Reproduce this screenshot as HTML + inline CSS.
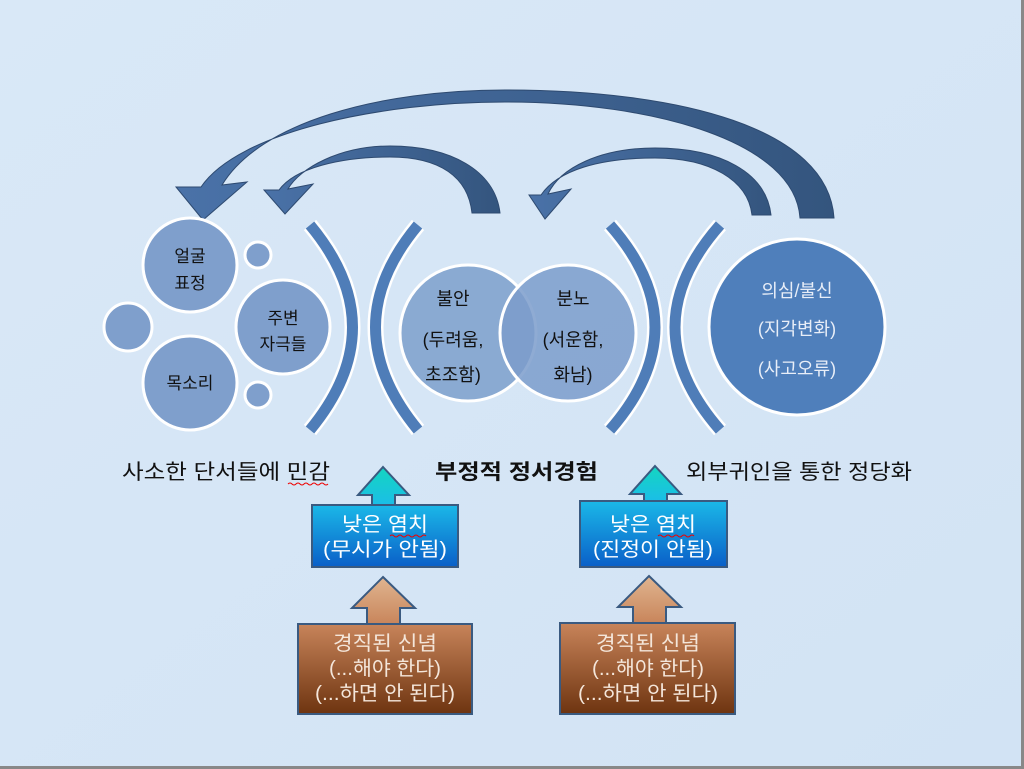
<!DOCTYPE html>
<html><head><meta charset="utf-8"><style>
html,body{margin:0;padding:0;}
body{width:1024px;height:769px;overflow:hidden;background:#d5e5f5;font-family:"Liberation Sans","Noto Sans CJK KR","NanumGothic",sans-serif;}
svg{display:block}
text{font-family:"Liberation Sans","Noto Sans CJK KR","NanumGothic",sans-serif;}
</style></head><body>
<svg width="1024" height="769" viewBox="0 0 1024 769" xmlns="http://www.w3.org/2000/svg">
<defs>
<linearGradient id="bg" x1="0" y1="0" x2="1" y2="1"><stop offset="0" stop-color="#d9e8f7"/><stop offset="1" stop-color="#d2e3f4"/></linearGradient>
<linearGradient id="blue" x1="0" y1="0" x2="0" y2="1"><stop offset="0" stop-color="#1bb8e8"/><stop offset="1" stop-color="#0a5fc8"/></linearGradient>
<linearGradient id="cyan" x1="0" y1="0" x2="0" y2="1"><stop offset="0" stop-color="#14d6c0"/><stop offset="1" stop-color="#1bbde8"/></linearGradient>
<linearGradient id="brown" x1="0" y1="0" x2="0" y2="1"><stop offset="0" stop-color="#c8845a"/><stop offset="1" stop-color="#6e3410"/></linearGradient>
<linearGradient id="tan" x1="0" y1="0" x2="0" y2="1"><stop offset="0" stop-color="#e0b590"/><stop offset="1" stop-color="#c8845a"/></linearGradient>
<linearGradient id="arr" x1="0" y1="0" x2="1" y2="0"><stop offset="0" stop-color="#4a72a8"/><stop offset="1" stop-color="#34557e"/></linearGradient>
</defs>
<rect width="1024" height="769" fill="url(#bg)"/>
<rect x="1021" y="0" width="3" height="769" fill="#888"/>
<rect x="0" y="766" width="1024" height="3" fill="#888"/>

<path d="M834,218 C828,128 680,90 505,90 C380,90 260,122 222,185 L247,182 L203,220 L176,187 L201,187 C238,132 380,102 505,102 C655,102 795,142 800,218 Z" fill="url(#arr)" stroke="#2e4a70" stroke-width="1"/>
<path d="M500,213 C495,170 450,146 390,146 C340,146 300,168 288,189 L313,184 L285,214 L264,190 L279,190 C295,168 340,157 390,157 C440,157 468,177 472,213 Z" fill="url(#arr)" stroke="#2e4a70" stroke-width="1"/>
<path d="M771,215 C766,172 720,148 655,148 C600,148 560,168 548,194 L571,189 L545,219 L529,195 L541,195 C558,170 600,158 655,158 C710,158 748,180 752,215 Z" fill="url(#arr)" stroke="#2e4a70" stroke-width="1"/>

<g fill="#7f9fcc" stroke="#fff" stroke-width="3">
<circle cx="190" cy="265" r="47"/>
<circle cx="258" cy="255" r="13"/>
<circle cx="283" cy="327" r="47"/>
<circle cx="128" cy="327" r="24"/>
<circle cx="190" cy="383" r="47"/>
<circle cx="258" cy="395" r="13"/>
</g>
<g font-size="17" fill="#111" text-anchor="middle">
<text x="190" y="262">얼굴</text><text x="190" y="289">표정</text>
<text x="283" y="324">주변</text><text x="283" y="350">자극들</text>
<text x="190" y="389">목소리</text>
</g>

<g fill="none" stroke-linecap="butt">
<g stroke="#fff" stroke-width="16">
<path d="M310,225 Q395,327 310,430"/><path d="M418,225 Q333,327 418,430"/>
<path d="M610,225 Q700,327 610,430"/><path d="M720,225 Q630,327 720,430"/>
</g>
<g stroke="#4f7db8" stroke-width="11">
<path d="M310,225 Q395,327 310,430"/><path d="M418,225 Q333,327 418,430"/>
<path d="M610,225 Q700,327 610,430"/><path d="M720,225 Q630,327 720,430"/>
</g>
</g>

<circle cx="468" cy="333" r="68" fill="#86a6d0" fill-opacity="0.95" stroke="#fff" stroke-width="3"/>
<circle cx="568" cy="333" r="68" fill="#7b9ccb" fill-opacity="0.85" stroke="#fff" stroke-width="3"/>
<g font-size="18" fill="#111" text-anchor="middle">
<text x="453" y="305">불안</text><text x="453" y="346">(두려움,</text><text x="453" y="381">초조함)</text>
<text x="573" y="305">분노</text><text x="573" y="346">(서운함,</text><text x="573" y="381">화남)</text>
</g>

<circle cx="797" cy="327" r="88" fill="#4f7fbb" stroke="#fff" stroke-width="3"/>
<g font-size="18" fill="#e8eef8" text-anchor="middle">
<text x="797" y="297">의심/불신</text><text x="797" y="335">(지각변화)</text><text x="797" y="375">(사고오류)</text>
</g>

<text x="122" y="479" font-size="21" fill="#111" textLength="208" lengthAdjust="spacingAndGlyphs">사소한 단서들에 민감</text>
<path d="M288,484 q2,-2 4,0 t4,0 t4,0 t4,0 t4,0 t4,0 t4,0 t4,0 t4,0 t4,0" fill="none" stroke="#e00" stroke-width="1"/>
<text x="435" y="479" font-size="21" font-weight="bold" fill="#111" textLength="163" lengthAdjust="spacingAndGlyphs">부정적 정서경험</text>
<text x="686" y="479" font-size="21" fill="#111" textLength="226" lengthAdjust="spacingAndGlyphs">외부귀인을 통한 정당화</text>

<g stroke="#3a5a80" stroke-width="2">
<path d="M383,467 L409,495 L395,495 L395,506 L372,506 L372,495 L358,495 Z" fill="url(#cyan)"/>
<rect x="312" y="505" width="146" height="62" fill="url(#blue)"/>
<path d="M655,466 L681,494 L667,494 L667,502 L644,502 L644,494 L630,494 Z" fill="url(#cyan)"/>
<rect x="580" y="501" width="147" height="66" fill="url(#blue)"/>
</g>
<g font-size="20" fill="#fff" text-anchor="middle">
<text x="385" y="531" textLength="86" lengthAdjust="spacingAndGlyphs">낮은 염치</text><text x="385" y="556" textLength="124" lengthAdjust="spacingAndGlyphs">(무시가 안됨)</text>
<text x="653" y="531" textLength="86" lengthAdjust="spacingAndGlyphs">낮은 염치</text><text x="653" y="556" textLength="120" lengthAdjust="spacingAndGlyphs">(진정이 안됨)</text>
</g>
<path d="M390,536 q2,-2 4,0 t4,0 t4,0 t4,0 t4,0 t4,0 t4,0 t4,0 t4,0" fill="none" stroke="#e00" stroke-width="1"/>
<path d="M658,536 q2,-2 4,0 t4,0 t4,0 t4,0 t4,0 t4,0 t4,0 t4,0 t4,0" fill="none" stroke="#e00" stroke-width="1"/>

<g stroke="#3a5a80" stroke-width="2">
<path d="M383,577 L415,608 L400,608 L400,625 L367,625 L367,608 L352,608 Z" fill="url(#tan)"/>
<rect x="298" y="624" width="174" height="90" fill="url(#brown)"/>
<path d="M649,576 L681,607 L666,607 L666,624 L633,624 L633,607 L618,607 Z" fill="url(#tan)"/>
<rect x="560" y="623" width="175" height="91" fill="url(#brown)"/>
</g>
<g font-size="20" fill="#f4e6da" text-anchor="middle">
<text x="385" y="650" textLength="104" lengthAdjust="spacingAndGlyphs">경직된 신념</text><text x="385" y="675" textLength="112" lengthAdjust="spacingAndGlyphs">(...해야 한다)</text><text x="385" y="700" textLength="140" lengthAdjust="spacingAndGlyphs">(...하면 안 된다)</text>
<text x="648" y="650" textLength="104" lengthAdjust="spacingAndGlyphs">경직된 신념</text><text x="648" y="675" textLength="112" lengthAdjust="spacingAndGlyphs">(...해야 한다)</text><text x="648" y="700" textLength="140" lengthAdjust="spacingAndGlyphs">(...하면 안 된다)</text>
</g>
</svg>
</body></html>
